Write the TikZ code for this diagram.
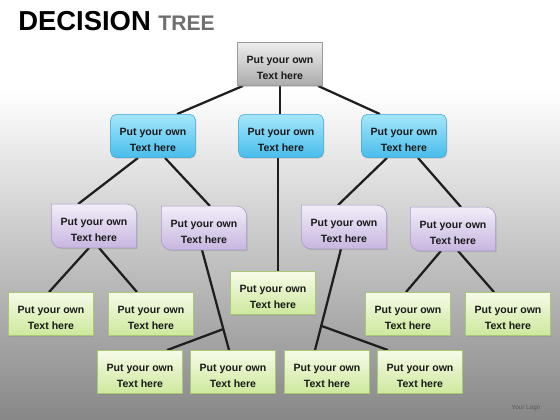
\documentclass[tikz,border=0pt]{standalone}
\usepackage{fontspec}
\setmainfont{Liberation Sans}
\usetikzlibrary{calc, backgrounds, shadows}
\definecolor{rootTop}{HTML}{EDEDED}
\definecolor{rootBot}{HTML}{ABABAB}
\definecolor{rootEdge}{HTML}{9A9A9A}
\definecolor{blueTop}{HTML}{A6E6FA}
\definecolor{blueBot}{HTML}{48BDEB}
\definecolor{blueEdge}{HTML}{3AA8D8}
\definecolor{purpleTop}{HTML}{F2EDF9}
\definecolor{purpleBot}{HTML}{C7B6E0}
\definecolor{purpleEdge}{HTML}{A898C8}
\definecolor{greenTop}{HTML}{F6FBE8}
\definecolor{greenBot}{HTML}{CDE89C}
\definecolor{greenEdge}{HTML}{A8C878}
\definecolor{bgBot}{HTML}{878787}
\definecolor{linkcol}{HTML}{1E1E1E}
\definecolor{textcol}{HTML}{1A1A1A}
\definecolor{titlegray}{HTML}{6E6E6E}
\pgfdeclarelayer{canvas}
\pgfsetlayers{canvas,background,main}
\tikzset{
    treebox/.style={
        rectangle, minimum width=2.12cm, minimum height=1.08cm, inner sep=1pt,
        align=center, text=textcol, text height=22pt, font=\fontsize{7.5}{11.4}\selectfont\bfseries
    },
    boxshadow/.style={drop shadow={shadow xshift=0.6pt, shadow yshift=-0.8pt, opacity=0.3}},
    rootbox/.style={treebox, draw=rootEdge, top color=rootTop, bottom color=rootBot, boxshadow},
    bluebox/.style={treebox, rounded corners=4pt, draw=blueEdge, top color=blueTop, bottom color=blueBot, boxshadow},
    purplebox/.style={treebox},
    purpleshape/.style={draw=purpleEdge, top color=purpleTop, bottom color=purpleBot, boxshadow},
    greenbox/.style={treebox, draw=greenEdge, top color=greenTop, bottom color=greenBot, boxshadow},
    link/.style={draw=linkcol, line width=1.6pt},
    titletext/.style={inner sep=0pt, font=\fontsize{19.5}{24}\selectfont\bfseries},
    logotext/.style={inner sep=0pt, text=black!65, font=\fontsize{4.5}{5}\selectfont}
}

\begin{document}
\begin{tikzpicture}[x=0.025cm, y=-0.025cm]
\useasboundingbox (0,0) rectangle (560,420);

% Backdrop
\begin{pgfonlayer}{canvas}
\fill[white] (0,0) rectangle (560,420);
\shade[top color=white, bottom color=bgBot] (0,90) rectangle (560,420);
\end{pgfonlayer}

% Title
\node[titletext, anchor=base west] (title) at (18,31) {DECISION \textcolor{titlegray}{\fontsize{15}{18}\selectfont TREE}};

% Root
\node[rootbox] (root) at (280,64) {Put your own\\Text here};

% Level 1
\node[bluebox] (ca) at (153,136) {Put your own\\Text here};
\node[bluebox] (cb) at (281,136) {Put your own\\Text here};
\node[bluebox] (cc) at (404,136) {Put your own\\Text here};

% Level 2
\node[purplebox] (pa) at (94,226) {Put your own\\Text here};
\node[purplebox] (pb) at (204,228) {Put your own\\Text here};
\node[purplebox] (pc) at (344,227) {Put your own\\Text here};
\node[purplebox] (pd) at (453,229) {Put your own\\Text here};

% Level 3
\node[greenbox] (ga) at (51,314) {Put your own\\Text here};
\node[greenbox] (gb) at (151,314) {Put your own\\Text here};
\node[greenbox] (gm) at (273,293) {Put your own\\Text here};
\node[greenbox] (gd) at (408,314) {Put your own\\Text here};
\node[greenbox] (ge) at (508,314) {Put your own\\Text here};

% Bottom row
\node[greenbox] (ba) at (140,372) {Put your own\\Text here};
\node[greenbox] (bb) at (233,372) {Put your own\\Text here};
\node[greenbox] (bc) at (327,372) {Put your own\\Text here};
\node[greenbox] (bd) at (420,372) {Put your own\\Text here};

\node[logotext] (logo) at (526,408) {Your Logo};

\begin{pgfonlayer}{background}
% Branches
\draw[link] ($(root.south)+(-37,0)$) -- ($(ca.north)+(24,0)$);
\draw[link] ($(root.south)+(0,0)$) -- ($(cb.north)+(-1,0)$);
\draw[link] ($(root.south)+(38,0)$) -- ($(cc.north)+(-24,0)$);
\draw[link] ($(cb.south)+(-3,0)$) -- ($(gm.north)+(5,0)$);
\draw[link] ($(ca.south)+(-15,0)$) -- ($(pa.north)+(-16,0)$);
\draw[link] ($(ca.south)+(12,0)$) -- ($(pb.north)+(6,0)$);
\draw[link] ($(cc.south)+(-17,0)$) -- ($(pc.north)+(-6,0)$);
\draw[link] ($(cc.south)+(14,0)$) -- ($(pd.north)+(8,0)$);
\draw[link] ($(pa.south)+(-5,0)$) -- ($(ga.north)+(-2,0)$);
\draw[link] ($(pa.south)+(5,0)$) -- ($(gb.north)+(-14,0)$);
\draw[link] ($(pd.south)+(-12,0)$) -- ($(gd.north)+(-2,0)$);
\draw[link] ($(pd.south)+(5,0)$) -- ($(ge.north)+(-14,0)$);
\draw[link] ($(pb.south)+(-2,0)$) -- coordinate[pos=0.79] (jb) ($(bb.north)+(-4,0)$);
\draw[link] (jb) -- ($(ba.north)+(27,0)$);
\draw[link] ($(pc.south)+(-3,0)$) -- coordinate[pos=0.76] (jc) ($(bc.north)+(-12,0)$);
\draw[link] (jc) -- ($(bd.north)+(-32,0)$);

% Purple shapes: round top right and bottom left
\foreach \n in {pa,pb,pc,pd}
  \shade[purpleshape] (\n.north west) -- ([xshift=-7pt]\n.north east)
    arc[start angle=90, end angle=0, radius=7pt] -- (\n.south east)
    -- ([xshift=7pt]\n.south west) arc[start angle=270, end angle=180, radius=7pt] -- cycle;
\end{pgfonlayer}

\end{tikzpicture}
\end{document}
